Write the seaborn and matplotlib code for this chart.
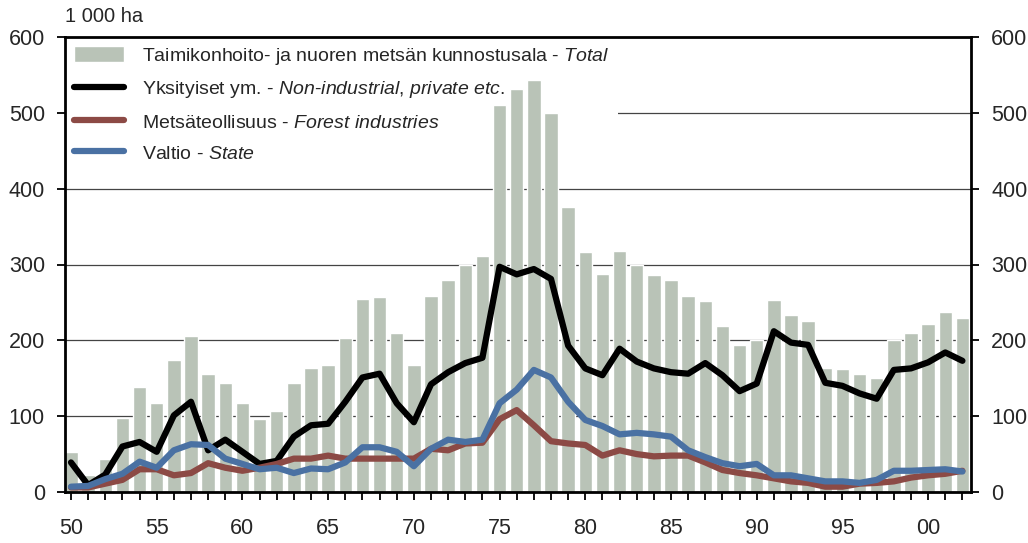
import numpy as np
import pandas as pd
import seaborn as sns
import matplotlib.pyplot as plt
from matplotlib.ticker import MultipleLocator, FixedLocator

years = list(range(1950, 2003))

# 1 000 ha
total = [53, 22, 44, 98, 138, 118, 174, 206, 155, 144,
         118, 96, 107, 144, 163, 168, 203, 255, 257, 210,
         168, 258, 280, 299, 311, 510, 531, 543, 500, 376,
         316, 288, 318, 300, 286, 279, 258, 252, 219, 194,
         200, 253, 233, 226, 164, 162, 155, 150, 200, 210,
         222, 238, 229]
private = [39, 9, 23, 60, 66, 53, 101, 119, 55, 69,
           53, 37, 41, 73, 88, 90, 119, 151, 156, 117,
           92, 142, 158, 170, 177, 297, 287, 294, 281, 193,
           163, 154, 189, 172, 163, 158, 156, 170, 154, 133,
           143, 212, 197, 194, 144, 140, 130, 123, 161, 163,
           171, 184, 173]
industry = [6, 6, 11, 16, 30, 30, 22, 25, 38, 32,
            28, 32, 37, 44, 44, 48, 44, 44, 44, 44,
            44, 57, 55, 64, 65, 96, 108, 88, 67, 64,
            62, 48, 55, 50, 47, 48, 48, 39, 29, 25,
            22, 18, 14, 12, 7, 7, 11, 12, 14, 19,
            22, 24, 28]
state = [7, 8, 17, 24, 40, 32, 55, 63, 62, 44,
         37, 30, 32, 25, 31, 30, 39, 59, 59, 53,
         34, 57, 69, 66, 69, 117, 135, 161, 151, 119,
         95, 87, 76, 78, 76, 73, 55, 46, 38, 34,
         37, 22, 22, 18, 14, 14, 12, 16, 28, 28,
         29, 30, 27]

labels = [
    "Taimikonhoito- ja nuoren metsän kunnostusala - $\\it{Total}$",
    "Yksityiset ym. - $\\it{Non}$-$\\it{industrial{,}\\ private\\ etc.}$",
    "Metsäteollisuus - $\\it{Forest\\ industries}$",
    "Valtio - $\\it{State}$",
]

df = pd.DataFrame({"year": years, "total": total, "private": private,
                   "industry": industry, "state": state})

sns.set_style("ticks")
plt.rcParams["font.family"] = ["Liberation Sans", "DejaVu Sans"]
plt.rcParams["mathtext.fontset"] = "custom"
plt.rcParams["mathtext.rm"] = "Liberation Sans"
plt.rcParams["mathtext.it"] = "Liberation Sans:italic"

fig = plt.figure(figsize=(10.28, 5.43), dpi=100)
ax = fig.add_axes([65 / 1028, 51 / 543, 906 / 1028, 455 / 543])

sns.barplot(data=df, x="year", y="total", native_scale=True, color="#b9c3b7",
            saturation=1, width=0.78, zorder=1.5, label=labels[0], ax=ax)
sns.lineplot(data=df, x="year", y="private", color="black", lw=4.5,
             label=labels[1], ax=ax, zorder=3)
sns.lineplot(data=df, x="year", y="industry", color="#8c4a45", lw=4.5,
             label=labels[2], ax=ax, zorder=3)
sns.lineplot(data=df, x="year", y="state", color="#4a71a3", lw=4.5,
             label=labels[3], ax=ax, zorder=3.1)

ax.set_xlim(1949.65, 2002.5)
ax.set_ylim(0, 600)
ax.set_xlabel("")
ax.set_ylabel("")

ax.xaxis.set_major_locator(FixedLocator(list(range(1950, 2001, 5))))
ax.xaxis.set_minor_locator(MultipleLocator(1))
ax.set_xticklabels([f"{y % 100:02d}" for y in range(1950, 2001, 5)])
ax.yaxis.set_major_locator(MultipleLocator(100))
ax.tick_params(axis="both", which="both", direction="out", length=5.5, width=1.3,
               labelsize=15.5, color="black")
ax.tick_params(axis="x", pad=13)
ax.tick_params(axis="y", right=True, labelright=True, pad=9)

ax.yaxis.grid(True, color="#444444", lw=0.9)
ax.set_axisbelow(True)
for s in ax.spines.values():
    s.set_visible(True)
    s.set_linewidth(2)
    s.set_color("black")

ax.text(0, 1.025, "1 000 ha", transform=ax.transAxes, fontsize=14.5,
        ha="left", va="bottom")

handles, labs = ax.get_legend_handles_labels()
order = [labs.index(l) for l in labels]
leg = ax.legend([handles[i] for i in order], [labs[i] for i in order],
                loc="upper left", fontsize=14, frameon=True, facecolor="white",
                edgecolor="none", framealpha=1, fancybox=False,
                handlelength=2.6, handleheight=0.85, handletextpad=0.9,
                labelspacing=0.65, borderpad=0.45, borderaxespad=0.0)
leg.set_zorder(1.2)

fig.savefig("out.png", dpi=100)
